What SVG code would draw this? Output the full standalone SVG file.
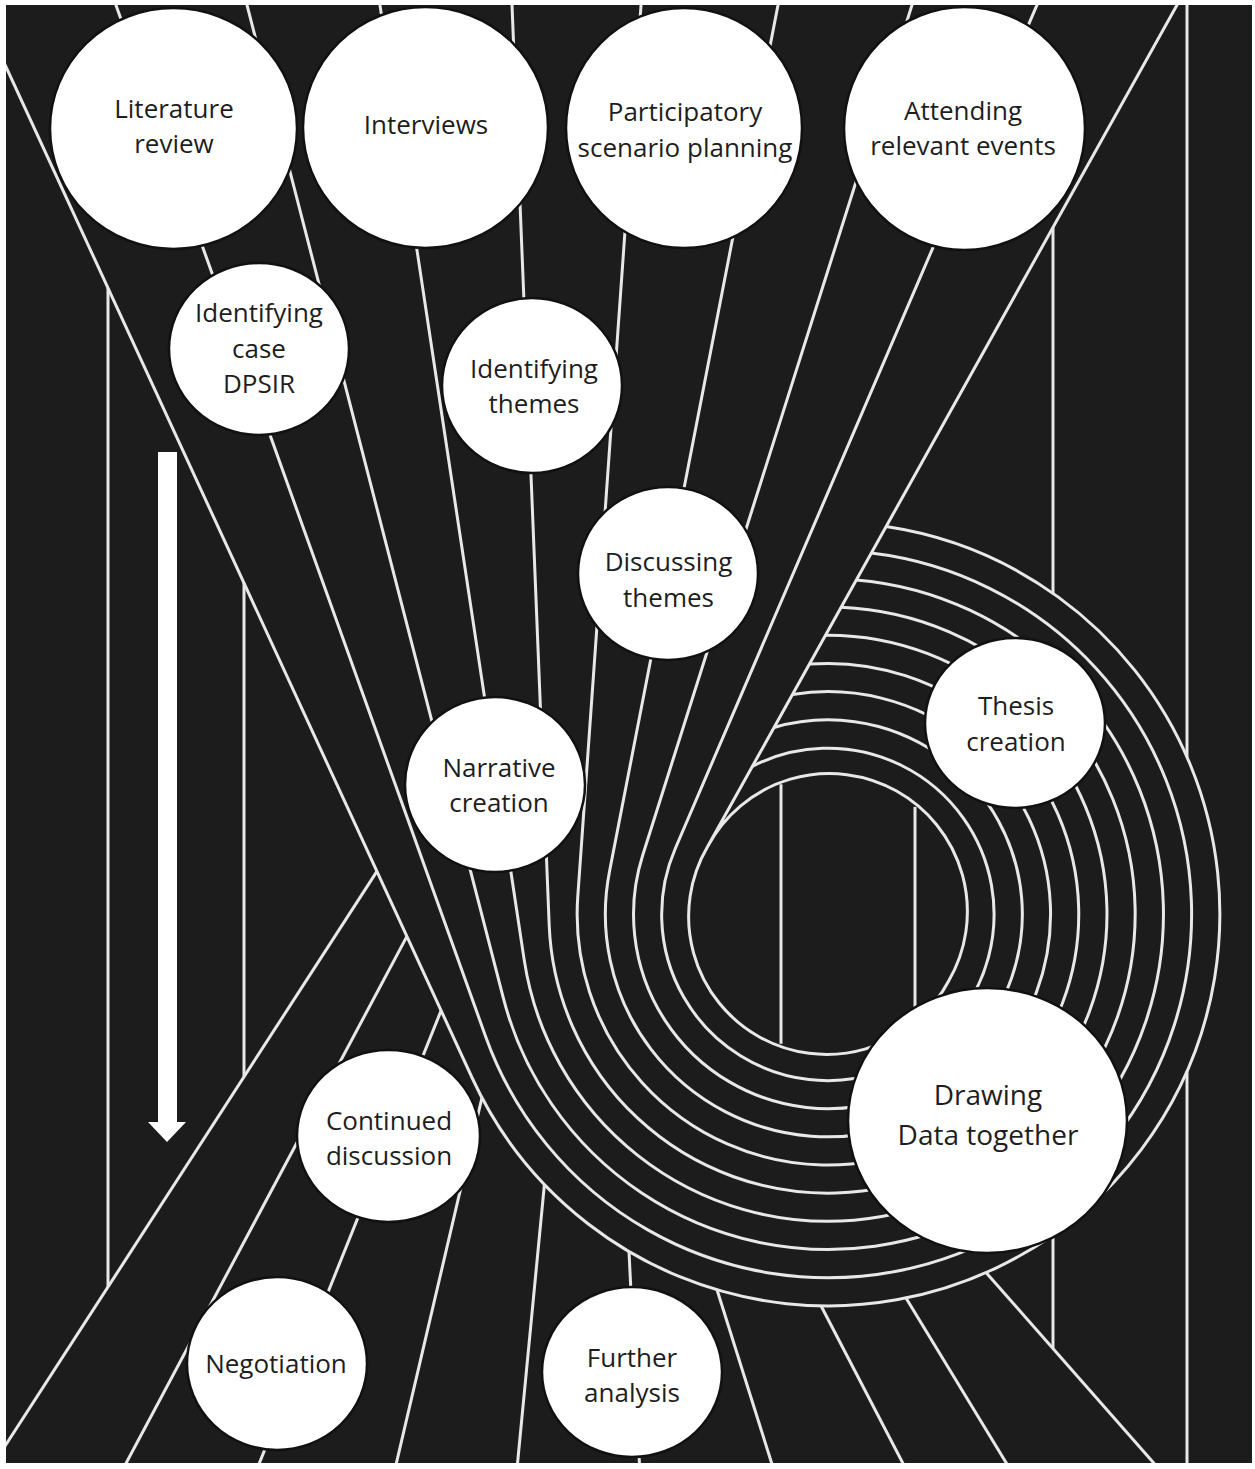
<svg xmlns="http://www.w3.org/2000/svg" width="1255" height="1469" viewBox="0 0 1255 1469">
<defs>
<clipPath id="clip"><rect x="6" y="5" width="1246" height="1458"/></clipPath>
<style>
.ln{fill:none;stroke:#e8e8e8;stroke-width:3;stroke-linejoin:round}
.nd{fill:#ffffff;stroke:#111111;stroke-width:2.5}
.tx{font-family:"Open Sans","Liberation Sans",sans-serif;font-size:26px;fill:#1e1e1e;text-anchor:middle}
</style>
</defs>
<rect width="1255" height="1469" fill="#ffffff"/>
<rect x="6" y="5" width="1246" height="1458" fill="#1c1c1c"/>
<g id="connectors" class="ln" clip-path="url(#clip)">
<path d="M0,53.8 L472.2,1078 A391.8,391.8 0 1 0 886.1,526.6"/>
<path d="M114.1,0 L485.7,1036.7 A363.6,363.6 0 1 0 871.3,553.1"/>
<path d="M245.7,0 L503.3,997.9 A335.4,335.4 0 1 0 856.3,579.9"/>
<path d="M379.2,0 L524.2,959.9 A307.2,307.2 0 1 0 841.1,607.2"/>
<path d="M511.8,0 L549.2,925.3 A279,279 0 1 0 825.5,635.2"/>
<path d="M641.4,0 L577.8,896.2 A250.8,250.8 0 1 0 809.4,664.1"/>
<path d="M779,0 L609.5,871.5 A222.6,222.6 0 1 0 792.4,694.5"/>
<path d="M913.6,0 L642.7,855.3 A194.4,194.4 0 1 0 774,727.5"/>
<path d="M1039.1,0 L675.3,848.5 A166.2,166.2 0 1 0 752.3,766.4"/>
<path d="M1179.8,0 L707.5,846.8 A138,138 0 1 0 948.5,981.2 A138,138 0 1 0 707.5,846.8"/>
<path d="M108,288.1 V1287"/>
<path d="M244,583.1 V1076.8"/>
<path d="M0,1453.8 L376.9,871.4"/>
<path d="M119.8,1475 L406.9,936.4"/>
<path d="M254.6,1475 L441.1,1010.6"/>
<path d="M393.6,1475 L482,1097.5"/>
<path d="M516.4,1475 L544.4,1184.5"/>
<path d="M629,1251.5 L640,1475"/>
<path d="M717,1289.7 L775.4,1475"/>
<path d="M821,1305.7 L909,1475"/>
<path d="M906,1298 L1013.6,1475"/>
<path d="M986,1272.5 L1164.3,1475"/>
<path d="M1053,227.3 V593.2"/>
<path d="M1053,1234.8 V1348.6"/>
<path d="M1187,0 V757.1"/>
<path d="M1187,1070.9 V1475"/>
<path d="M781,784.3 V1043.7"/>
<path d="M915,806.9 V1021.1"/>
</g>
<g id="arrow" fill="#ffffff">
<rect x="158" y="452" width="19" height="671"/>
<polygon points="148,1122 186,1122 167,1142"/>
</g>
<g id="node-literature-review">
<ellipse class="nd" cx="173.5" cy="128.5" rx="123.5" ry="120.5"/>
<text class="tx"><tspan x="174" y="118">Literature</tspan><tspan x="174" y="153">review</tspan></text>
</g>
<g id="node-interviews">
<ellipse class="nd" cx="425.5" cy="127.5" rx="122.5" ry="120.5"/>
<text class="tx"><tspan x="426" y="134">Interviews</tspan></text>
</g>
<g id="node-participatory-scenario-planning">
<ellipse class="nd" cx="684" cy="128" rx="118" ry="120"/>
<text class="tx"><tspan x="685" y="121">Participatory</tspan><tspan x="685" y="157">scenario planning</tspan></text>
</g>
<g id="node-attending-relevant-events">
<ellipse class="nd" cx="964.5" cy="128.5" rx="120.5" ry="121.5"/>
<text class="tx"><tspan x="963" y="120">Attending</tspan><tspan x="963" y="155">relevant events</tspan></text>
</g>
<g id="node-identifying-case-dpsir">
<ellipse class="nd" cx="259" cy="349" rx="90" ry="86"/>
<text class="tx"><tspan x="259" y="322">Identifying</tspan><tspan x="259" y="358">case</tspan><tspan x="259" y="393">DPSIR</tspan></text>
</g>
<g id="node-identifying-themes">
<ellipse class="nd" cx="532" cy="385.5" rx="90" ry="87.5"/>
<text class="tx"><tspan x="534" y="378">Identifying</tspan><tspan x="534" y="413">themes</tspan></text>
</g>
<g id="node-discussing-themes">
<ellipse class="nd" cx="668" cy="573.5" rx="90" ry="86.5"/>
<text class="tx"><tspan x="668.5" y="571">Discussing</tspan><tspan x="668.5" y="607">themes</tspan></text>
</g>
<g id="node-narrative-creation">
<ellipse class="nd" cx="495" cy="784.5" rx="90" ry="87.5"/>
<text class="tx"><tspan x="499" y="777">Narrative</tspan><tspan x="499" y="812">creation</tspan></text>
</g>
<g id="node-thesis-creation">
<ellipse class="nd" cx="1015" cy="723" rx="90" ry="85"/>
<text class="tx"><tspan x="1016" y="715">Thesis</tspan><tspan x="1016" y="751">creation</tspan></text>
</g>
<g id="node-drawing-data-together">
<ellipse class="nd" cx="987.5" cy="1120.5" rx="139.5" ry="132.5"/>
<text class="tx" style="font-size:28px"><tspan x="988" y="1105">Drawing</tspan><tspan x="988" y="1145">Data together</tspan></text>
</g>
<g id="node-continued-discussion">
<ellipse class="nd" cx="388.5" cy="1136" rx="91.5" ry="86"/>
<text class="tx"><tspan x="389" y="1130">Continued</tspan><tspan x="389" y="1165">discussion</tspan></text>
</g>
<g id="node-negotiation">
<ellipse class="nd" cx="277" cy="1363.5" rx="90" ry="86.5"/>
<text class="tx"><tspan x="276" y="1373">Negotiation</tspan></text>
</g>
<g id="node-further-analysis">
<ellipse class="nd" cx="632" cy="1372" rx="90" ry="85"/>
<text class="tx"><tspan x="632" y="1367">Further</tspan><tspan x="632" y="1402">analysis</tspan></text>
</g>
</svg>
